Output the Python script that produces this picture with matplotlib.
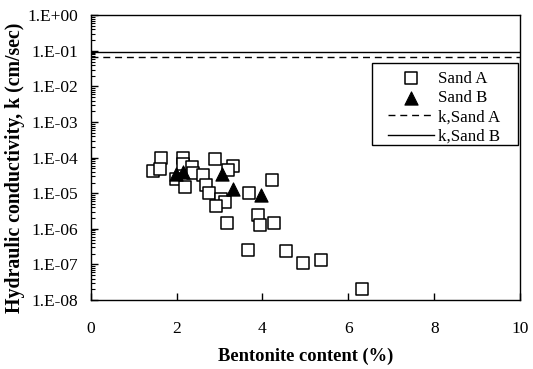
import matplotlib
matplotlib.use("Agg")
import matplotlib.pyplot as plt
from matplotlib.ticker import LogLocator, FixedLocator, NullFormatter
from matplotlib.patches import Rectangle
import numpy as np

# Sand A data: bentonite content (%) and hydraulic conductivity (cm/sec)
sand_a_x = [1.65, 1.46, 1.62, 2.14, 2.16, 2.35, 1.98, 2.20, 2.38, 2.62,
            2.89, 3.31, 3.20, 2.68, 2.75, 3.03, 3.12, 2.92, 3.69, 4.22,
            3.17, 3.89, 3.94, 4.27, 3.67, 4.55, 4.94, 5.36, 6.32]
sand_a_k = [1.0e-4, 4.3e-5, 4.7e-5, 1.0e-4, 6.6e-5, 5.3e-5, 2.5e-5, 1.5e-5, 3.6e-5, 3.3e-5,
            9.3e-5, 6.0e-5, 4.5e-5, 1.7e-5, 1.04e-5, 7.0e-6, 5.5e-6, 4.5e-6, 1.0e-5, 2.4e-5,
            1.5e-6, 2.5e-6, 1.3e-6, 1.5e-6, 2.6e-7, 2.35e-7, 1.1e-7, 1.3e-7, 2.0e-8]

# Sand B data
sand_b_x = [1.98, 2.14, 3.05, 3.32, 3.96]
sand_b_k = [3.5e-5, 4.0e-5, 3.5e-5, 1.35e-5, 9.2e-6]

# Clean sand permeability lines
k_sand_a = 0.069
k_sand_b = 0.095

x_ticks = [0, 2, 4, 6, 8, 10]
y_ticks = [1e-8, 1e-7, 1e-6, 1e-5, 1e-4, 1e-3, 1e-2, 1e-1, 1e0]
y_tick_labels = ["1.E-08", "1.E-07", "1.E-06", "1.E-05", "1.E-04",
                 "1.E-03", "1.E-02", "1.E-01", "1.E+00"]

plt.rcParams['font.family'] = ['Liberation Serif', 'DejaVu Serif']

fig = plt.figure(figsize=(5.33, 3.69), dpi=100)
ax = fig.add_axes([0.170, 0.187, 0.806, 0.7715])

ax.scatter(sand_a_x, sand_a_k, marker='s', s=78, facecolors='white',
           edgecolors='black', linewidths=1.1, label='Sand A', zorder=3)
ax.scatter(sand_b_x, sand_b_k, marker='^', s=90, facecolors='black',
           edgecolors='black', linewidths=0.8, label='Sand B', zorder=4)
ax.plot([0, 10], [k_sand_a, k_sand_a], color='black', lw=1.0,
        linestyle=(0, (5, 3.5)), label='k,Sand A')
ax.plot([0, 10], [k_sand_b, k_sand_b], color='black', lw=1.0,
        linestyle='-', label='k,Sand B')

ax.set_yscale('log')
ax.set_xlim(0, 10)
ax.set_ylim(1e-8, 1e0)

ax.xaxis.set_major_locator(FixedLocator(x_ticks))
ax.set_xticklabels([str(t) for t in x_ticks])
ax.yaxis.set_major_locator(FixedLocator(y_ticks))
ax.set_yticklabels(y_tick_labels)
ax.yaxis.set_minor_locator(LogLocator(base=10, subs=np.arange(2, 10), numticks=20))
ax.yaxis.set_minor_formatter(NullFormatter())

ax.tick_params(axis='both', which='major', direction='in', length=5, width=1,
               labelsize=12.5, colors='black')
ax.tick_params(axis='y', which='minor', direction='in', length=3, width=0.8)
ax.tick_params(axis='x', which='major', pad=15)
ax.tick_params(axis='y', which='major', pad=9)
ax.tick_params(top=False, right=False, which='both')

for sp in ax.spines.values():
    sp.set_linewidth(1.0)
    sp.set_color('black')

ax.set_xlabel('Bentonite content (%)', fontsize=13.3, fontweight='bold', labelpad=8)
ax.set_ylabel('Hydraulic conductivity, k (cm/sec)', fontsize=14.3, fontweight='bold')
ax.yaxis.set_label_coords(-0.152, 0.465)

# legend frame drawn separately to match the wide, tight box
ax.add_patch(Rectangle((0.655, 0.5444), 0.3396, 0.2881, transform=ax.transAxes,
                       facecolor='white', edgecolor='black', lw=1.0, zorder=5))
leg = ax.legend(loc='upper left', bbox_to_anchor=(0.6927, 0.805), frameon=False,
                fontsize=12.2, handlelength=2.7, borderpad=0, labelspacing=0.19,
                handletextpad=0.25, borderaxespad=0)
leg.set_zorder(6)

fig.savefig('out.png', dpi=100)
